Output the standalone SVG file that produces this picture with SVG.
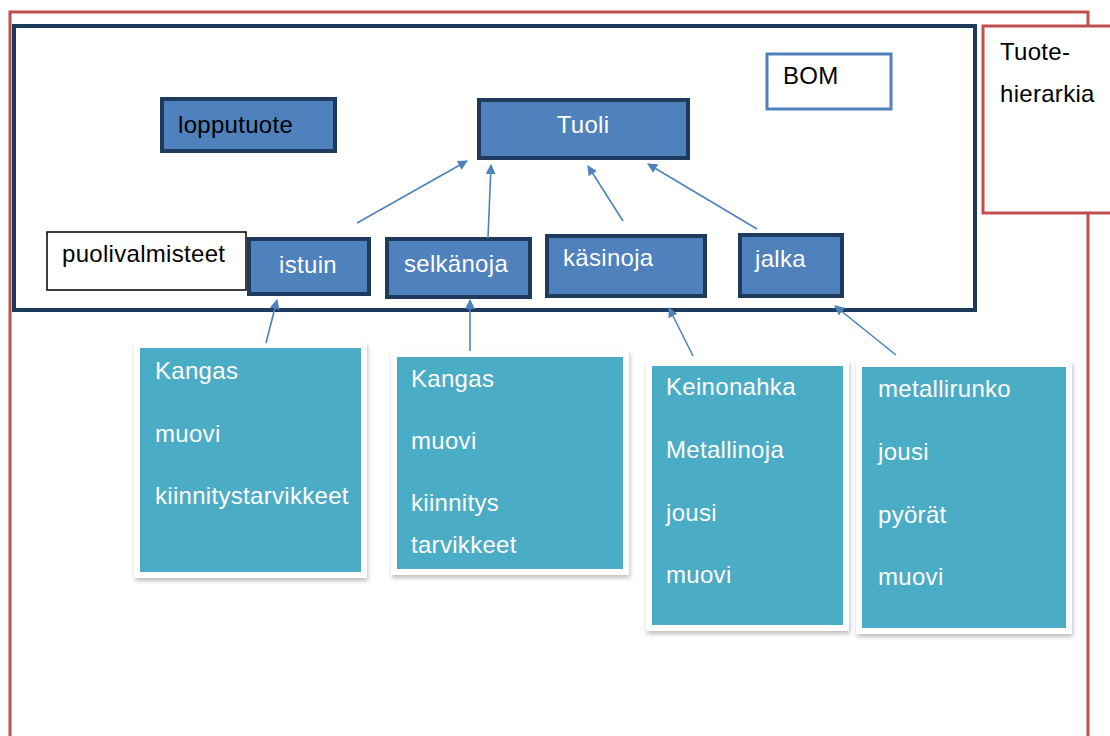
<svg xmlns="http://www.w3.org/2000/svg" width="1110" height="736" viewBox="0 0 1110 736">
<style>
text{font-family:"Liberation Sans",Arial,sans-serif;font-size:24px;letter-spacing:0.3px}
.blk{fill:#000}
.wht{fill:#fff}
.node{fill:#4f81bd;stroke:#1f3a5f;stroke-width:4}
.mat{fill:#4bacc6;stroke:#fff;stroke-width:6}
.conn{stroke:#4f81bd;stroke-width:1.6;fill:none;marker-end:url(#ah)}
</style>
<defs>
<marker id="ah" viewBox="0 0 10 10" refX="9" refY="5" markerWidth="10" markerHeight="10" markerUnits="userSpaceOnUse" orient="auto">
<path d="M0,0 L10,5 L0,10 z" fill="#4f81bd"/>
</marker>
<filter id="sh" x="-10%" y="-10%" width="125%" height="125%">
<feDropShadow dx="1" dy="3" stdDeviation="2" flood-color="#000" flood-opacity="0.25"/>
</filter>
</defs>
<rect width="1110" height="736" fill="#fff"/>
<g id="outer">
<path d="M10,740 L10,12 L1088,12 L1088,740" fill="none" stroke="#c0504d" stroke-width="3"/>
</g>
<g id="tuotehierarkia">
<rect x="983" y="26" width="135" height="187" fill="#fff" stroke="#c0504d" stroke-width="3"/>
<text class="blk" x="1000" y="60">Tuote-</text>
<text class="blk" x="1000" y="102">hierarkia</text>
</g>
<g id="bomframe">
<rect x="14" y="26" width="961" height="284" fill="none" stroke="#1f3a5f" stroke-width="4"/>
</g>
<g id="bom">
<rect x="767" y="54" width="124" height="55" fill="#fff" stroke="#4f81bd" stroke-width="3"/>
<text class="blk" x="783" y="84">BOM</text>
</g>
<g id="lopputuote">
<rect class="node" x="162" y="99" width="173" height="52"/>
<text class="blk" x="178" y="133">lopputuote</text>
</g>
<g id="tuoli">
<rect class="node" x="479" y="100" width="209" height="58"/>
<text class="wht" x="583" y="133" text-anchor="middle">Tuoli</text>
</g>
<g id="puolivalmisteet">
<rect x="47" y="232" width="199" height="58" fill="#fff" stroke="#000" stroke-width="1.5"/>
<text class="blk" x="62" y="262">puolivalmisteet</text>
</g>
<g id="istuin">
<rect class="node" x="249" y="239" width="120" height="55"/>
<text class="wht" x="308" y="273" text-anchor="middle">istuin</text>
</g>
<g id="selkanoja">
<rect class="node" x="387" y="239" width="143" height="58"/>
<text class="wht" x="456" y="272" text-anchor="middle">selkänoja</text>
</g>
<g id="kasinoja">
<rect class="node" x="547" y="236" width="158" height="60"/>
<text class="wht" x="563" y="266">käsinoja</text>
</g>
<g id="jalka">
<rect class="node" x="740" y="235" width="102" height="61"/>
<text class="wht" x="755" y="267">jalka</text>
</g>
<g id="mat1">
<rect class="mat" x="137" y="345" width="227" height="230" filter="url(#sh)"/>
<text class="wht" x="155" y="379">Kangas</text>
<text class="wht" x="155" y="442">muovi</text>
<text class="wht" x="155" y="504">kiinnitystarvikkeet</text>
</g>
<g id="mat2">
<rect class="mat" x="394" y="354" width="232" height="218" filter="url(#sh)"/>
<text class="wht" x="411" y="387">Kangas</text>
<text class="wht" x="411" y="449">muovi</text>
<text class="wht" x="411" y="511">kiinnitys</text>
<text class="wht" x="411" y="553">tarvikkeet</text>
</g>
<g id="mat3">
<rect class="mat" x="649" y="363" width="197" height="265" filter="url(#sh)"/>
<text class="wht" x="666" y="395">Keinonahka</text>
<text class="wht" x="666" y="458">Metallinoja</text>
<text class="wht" x="666" y="521">jousi</text>
<text class="wht" x="666" y="583">muovi</text>
</g>
<g id="mat4">
<rect class="mat" x="859" y="364" width="210" height="267" filter="url(#sh)"/>
<text class="wht" x="878" y="397">metallirunko</text>
<text class="wht" x="878" y="460">jousi</text>
<text class="wht" x="878" y="523">pyörät</text>
<text class="wht" x="878" y="585">muovi</text>
</g>
<g id="connectors">
<line class="conn" x1="357" y1="223" x2="467" y2="161"/>
<line class="conn" x1="488" y1="238" x2="491" y2="165"/>
<line class="conn" x1="623" y1="221" x2="588" y2="166"/>
<line class="conn" x1="757" y1="229" x2="648" y2="164"/>
<line class="conn" x1="266" y1="343" x2="277" y2="300"/>
<line class="conn" x1="470" y1="351" x2="470" y2="300"/>
<line class="conn" x1="693" y1="356" x2="669" y2="308"/>
<line class="conn" x1="896" y1="355" x2="835" y2="306"/>
</g>
</svg>
